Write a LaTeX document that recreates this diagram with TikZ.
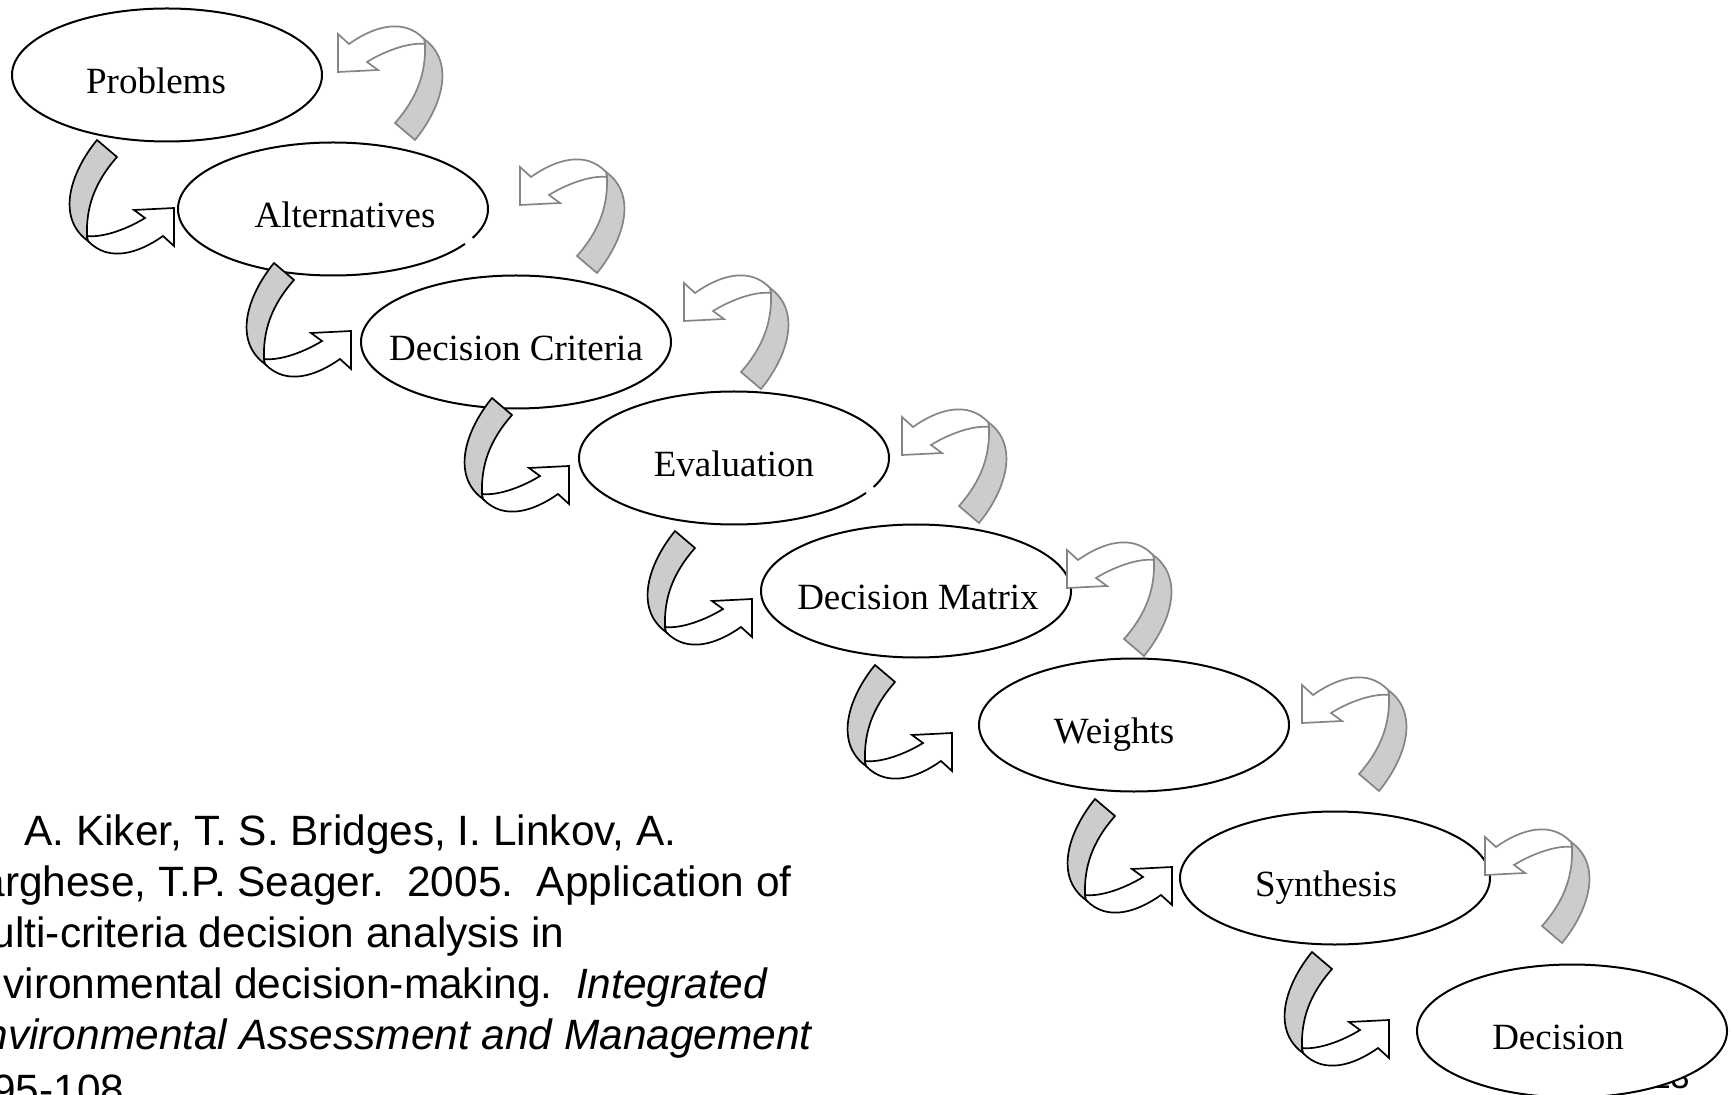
\documentclass[tikz,border=0pt]{standalone}
\usepackage{fontspec}
\setmainfont{Liberation Serif}
\newfontfamily\citefont{Liberation Sans}
\usetikzlibrary{shapes.geometric,calc}
\definecolor{ribbongray}{HTML}{CCCCCC}
\definecolor{backline}{HTML}{858585}
\newcommand\stagetext[2]{\makebox[0pt]{\hspace*{#1}#2\hspace*{-#1}}}
\frenchspacing
\begin{document}
\begin{tikzpicture}[x=0.5pt,y=-0.5pt,
  stage/.style={ellipse,draw=black,line width=1pt,fill=white,
    minimum width=155pt,minimum height=66.5pt,inner sep=0pt,
    text height=18.5pt,text depth=0pt,
    font=\fontsize{18.5}{22}\selectfont},
  turnline/.style={draw=black,line width=0.85pt},
  fwdturn/.style={turnline/.style={draw=black,line width=0.85pt}},
  backturn/.style={rotate=180,turnline/.style={draw=backline,line width=0.85pt}},
  ribbonpart/.style={fill=ribbongray},
  headpart/.style={fill=white},
  citeline/.style={anchor=base west,inner sep=0pt,font=\citefont\fontsize{21.2}{25}\selectfont},
  pics/uturn/.style={code={
    \path[ribbonpart,turnline] (-87,28) .. controls (-88,0) and (-80,-25) .. (-57,-51)
       -- (-77,-68) .. controls (-104,-35) and (-118,10) .. (-86,33) -- cycle;
    \path[headpart,turnline] (-87,28) .. controls (-70,30) and (-45,20) .. (-29,10)
       -- (-40,2) -- (0,0) -- (0,38) -- (-11,28)
       .. controls (-35,45) and (-65,55) .. (-86,33) -- cycle;
  }}
]
\clip (0,0) rectangle (1732,1095);
\fill[white] (0,0) rectangle (1732,1095);

% citation
\node[citeline] (c1) at (24,845) {A. Kiker, T. S. Bridges, I. Linkov, A.};
\node[citeline] (c2) at (-44,896) {Varghese, T.P. Seager.~~2005.~~Application of};
\node[citeline] (c3) at (-44,947) {multi-criteria decision analysis in};
\node[citeline] (c4) at (-44,998) {environmental decision-making.~~\textit{Integrated}};
\node[citeline] (c5) at (-44,1049) {\textit{Environmental Assessment and Management}};
\node[citeline] (c6) at (-8,1104) {95-108};

% slide number (mostly hidden)
\node[anchor=base east,inner sep=0pt,font=\citefont\fontsize{17}{20}\selectfont] (pgnum) at (1690,1088) {23};

% stages
\node[stage] (prob) at (167,75) {\stagetext{-5.5pt}{Problems}};
\node[stage] (alt) at (333,209) {\stagetext{6pt}{Alternatives}};
\node[stage] (crit) at (516,342) {\stagetext{0pt}{Decision Criteria}};
\node[stage] (eval) at (734,458) {\stagetext{0pt}{Evaluation}};
\node[stage] (matrix) at (916,591) {\stagetext{1pt}{Decision Matrix}};
\node[stage] (weights) at (1134,725) {\stagetext{-10pt}{Weights}};
\node[stage] (synth) at (1335,878) {\stagetext{-4.5pt}{Synthesis}};
\node[stage] (dec) at (1572,1031) {\stagetext{-7pt}{Decision}};

% small breaks in outlines
\draw[white,line width=2.5pt] (alt.-15.5) -- (alt.-12.3);
\draw[white,line width=2.5pt] (eval.-15.5) -- (eval.-12.3);

% forward ribbon arrows
\pic[fwdturn] at ($(alt.west)+(-3,-1)$) {uturn};
\pic[fwdturn] at ($(crit.west)+(-9,-11)$) {uturn};
\pic[fwdturn] at ($(eval.west)+(-9,8)$) {uturn};
\pic[fwdturn] at ($(matrix.west)+(-8,8)$) {uturn};
\pic[fwdturn] at ($(weights.west)+(-26,8)$) {uturn};
\pic[fwdturn] at ($(synth.west)+(-7,-11)$) {uturn};
\pic[fwdturn] at ($(dec.west)+(-27,-11)$) {uturn};

% backward ribbon arrows
\pic[backturn] at ($(prob.east)+(15,-3)$) {uturn};
\pic[backturn] at ($(alt.east)+(31,-4)$) {uturn};
\pic[backturn] at ($(crit.east)+(12,-21)$) {uturn};
\pic[backturn] at ($(eval.east)+(12,-3)$) {uturn};
\pic[backturn] at ($(matrix.east)+(-5,-3)$) {uturn};
\pic[backturn] at ($(weights.east)+(12,-2)$) {uturn};
\pic[backturn] at ($(synth.east)+(-6,-3)$) {uturn};
\end{tikzpicture}
\end{document}
